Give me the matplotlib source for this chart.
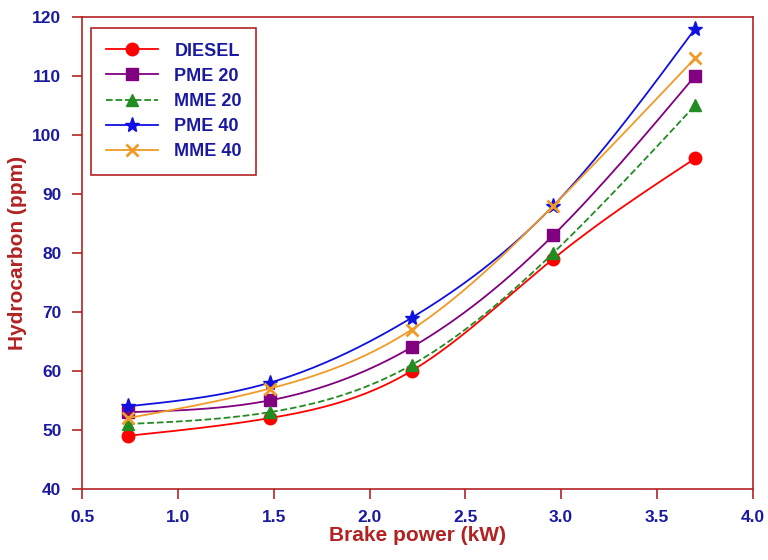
import numpy as np
import matplotlib
matplotlib.use("Agg")
import matplotlib.pyplot as plt

plt.rcParams['font.family'] = ['Liberation Sans', 'DejaVu Sans']

brake_power = [0.74, 1.48, 2.22, 2.96, 3.70]
diesel = [49, 52, 60, 79, 96]
pme20 = [53, 55, 64, 83, 110]
mme20 = [51, 53, 61, 80, 105]
pme40 = [54, 58, 69, 88, 118]
mme40 = [52, 57, 67, 88, 113]

series = [
    ("DIESEL", diesel, "red", "o", "-", 9),
    ("PME 20", pme20, "#800080", "s", "-", 8),
    ("MME 20", mme20, "#228b22", "^", "--", 9),
    ("PME 40", pme40, "#1010e0", "*", "-", 11),
    ("MME 40", mme40, "#f09a28", "x", "-", 8),
]

axis_red = "#b22222"
tick_blue = "#1a1aa0"


def smooth(x, y, n=200):
    # natural cubic spline through the points
    x = np.asarray(x, float)
    y = np.asarray(y, float)
    k = len(x)
    h = np.diff(x)
    A = np.zeros((k, k))
    b = np.zeros(k)
    A[0, 0] = A[-1, -1] = 1
    for i in range(1, k - 1):
        A[i, i - 1] = h[i - 1]
        A[i, i] = 2 * (h[i - 1] + h[i])
        A[i, i + 1] = h[i]
        b[i] = 6 * ((y[i + 1] - y[i]) / h[i] - (y[i] - y[i - 1]) / h[i - 1])
    M = np.linalg.solve(A, b)
    xs = np.linspace(x[0], x[-1], n)
    ys = np.empty_like(xs)
    for j, xv in enumerate(xs):
        i = min(np.searchsorted(x, xv) - 1, k - 2)
        i = max(i, 0)
        t1 = x[i + 1] - xv
        t0 = xv - x[i]
        ys[j] = (M[i] * t1**3 + M[i + 1] * t0**3) / (6 * h[i]) \
            + (y[i] / h[i] - M[i] * h[i] / 6) * t1 \
            + (y[i + 1] / h[i] - M[i + 1] * h[i] / 6) * t0
    return xs, ys


fig = plt.figure(figsize=(7.68, 5.6), dpi=100)
ax = fig.add_axes([0.107, 0.127, 0.873, 0.843])

for name, vals, col, mk, ls, ms in series:
    xs, ys = smooth(brake_power, vals)
    ax.plot(xs, ys, color=col, linestyle=ls, linewidth=1.3)
    ax.plot(brake_power, vals, color=col, marker=mk, markersize=ms,
            linestyle="none", markeredgewidth=2 if mk == "x" else 1)
    ax.plot([], [], color=col, linestyle=ls, marker=mk, markersize=ms,
            linewidth=1.3, label=name, markeredgewidth=2 if mk == "x" else 1)

ax.set_xlim(0.5, 4.0)
ax.set_ylim(40, 120)
ax.set_xticks(np.arange(0.5, 4.01, 0.5))
ax.set_yticks(np.arange(40, 121, 10))
ax.set_xticklabels([f"{v:.1f}" for v in np.arange(0.5, 4.01, 0.5)])

for s in ax.spines.values():
    s.set_color(axis_red)
    s.set_linewidth(1.2)
ax.tick_params(direction="out", length=7, width=1.2, color=axis_red,
               labelcolor=tick_blue, labelsize=12.5, pad=8)
for lab in ax.get_xticklabels() + ax.get_yticklabels():
    lab.set_fontweight("bold")

ax.set_xlabel("Brake power (kW)", color=axis_red, fontsize=15,
              fontweight="bold", labelpad=1)
ax.set_ylabel("Hydrocarbon (ppm)", color=axis_red, fontsize=15,
              fontweight="bold", labelpad=4)

leg = ax.legend(loc="upper left", bbox_to_anchor=(0.0, 0.995),
                fancybox=False, framealpha=1, edgecolor=axis_red,
                handlelength=2.9, borderpad=0.8, labelspacing=0.45,
                handletextpad=0.9,
                prop={"weight": "bold", "size": 13})
leg.get_frame().set_linewidth(1.2)
for t in leg.get_texts():
    t.set_color(tick_blue)

fig.savefig("out.png", dpi=100)
